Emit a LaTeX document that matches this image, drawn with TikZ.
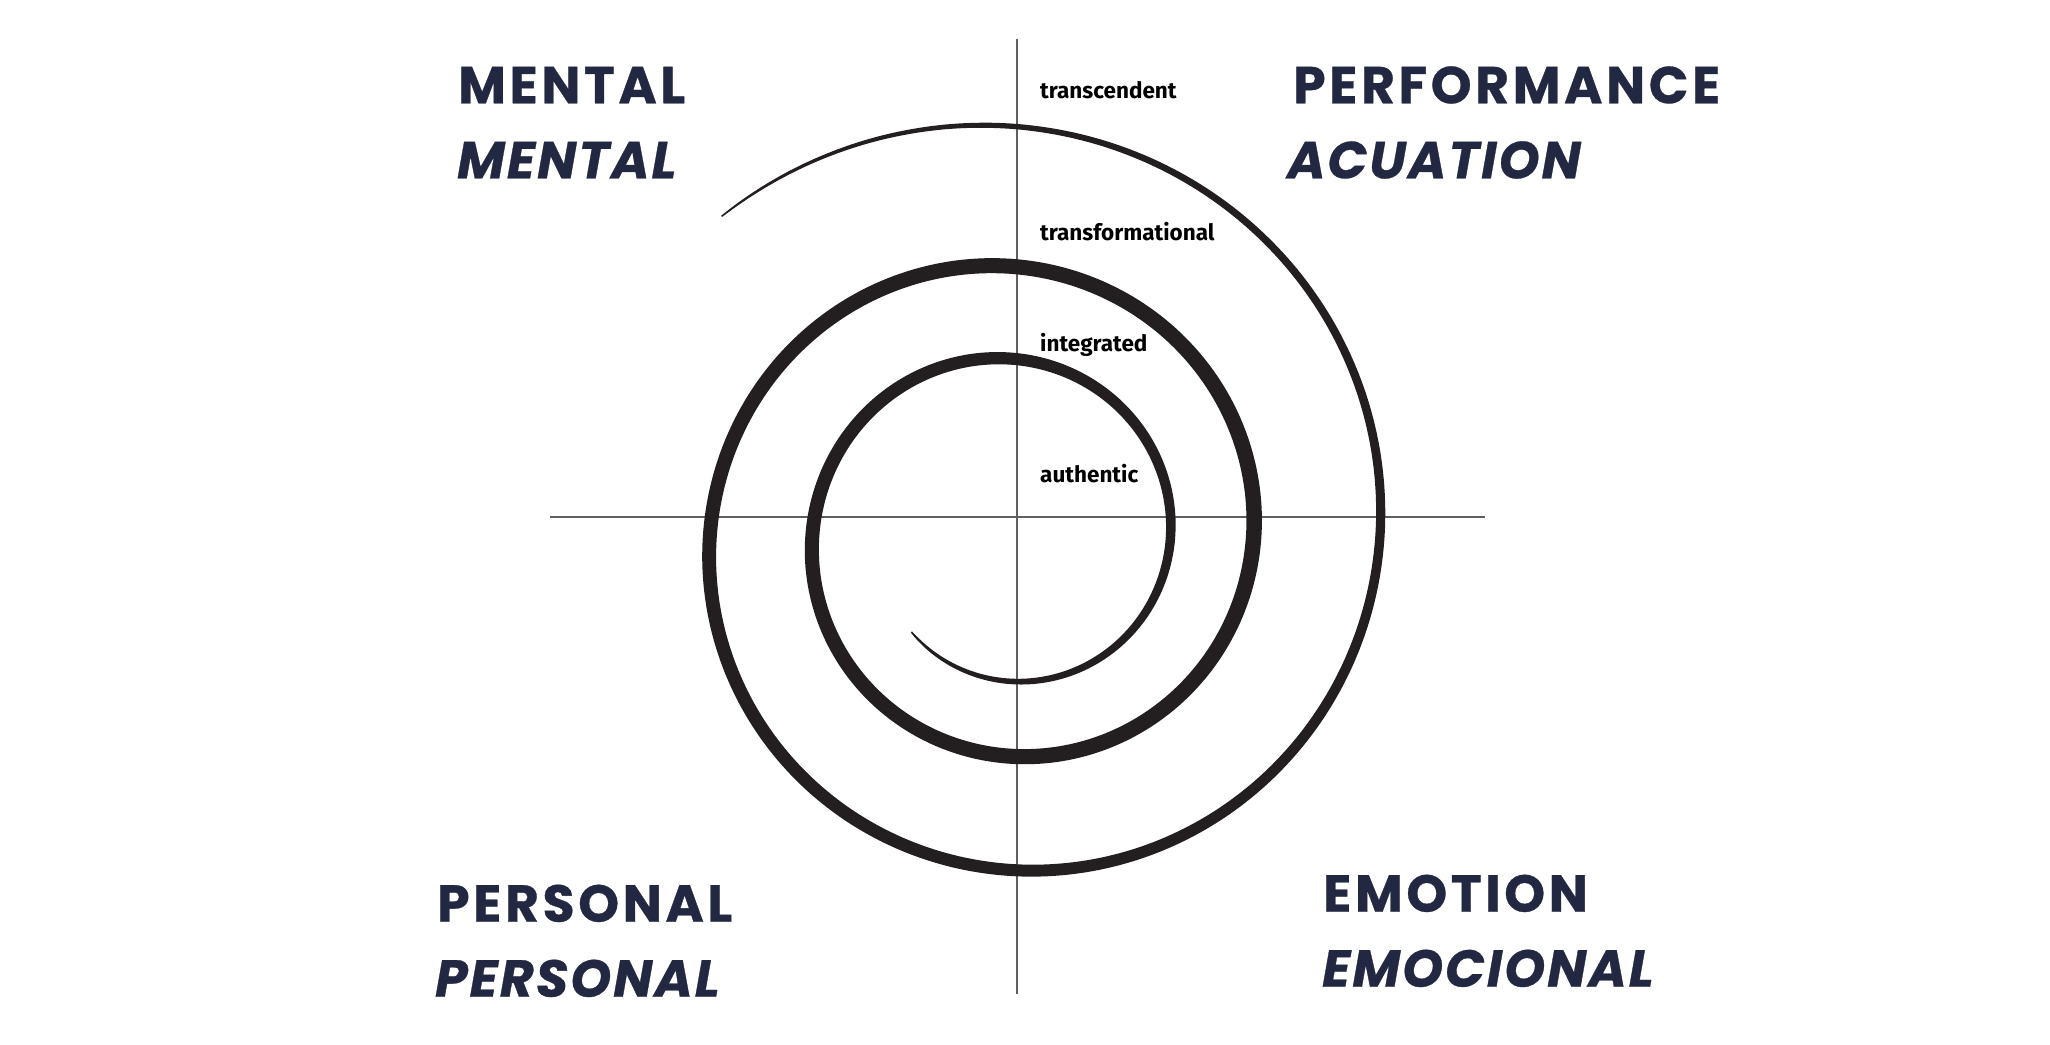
\documentclass[tikz,border=0pt]{standalone}
\usepackage{fontspec}
\newfontfamily\bigfont[LetterSpace=7,FakeBold=0.6]{Poppins}
\newfontfamily\bigitfont[LetterSpace=4,FakeBold=0.6]{Poppins}
\newfontfamily\smallfont{Fira Sans}
\definecolor{navy}{RGB}{34,40,66}
\definecolor{ink}{RGB}{35,31,32}
\definecolor{axisgray}{RGB}{95,95,95}
\begin{document}
\begin{tikzpicture}[x=1pt,y=-1pt,
  bigup/.style={anchor=base west,inner sep=0pt,text=navy,font=\bigfont\fontsize{52}{52}\selectfont\bfseries},
  bigit/.style={anchor=base west,inner sep=0pt,text=navy,font=\bigitfont\fontsize{52}{52}\selectfont\bfseries\itshape},
  level/.style={anchor=base west,inner sep=0pt,text=black,font=\smallfont\fontsize{22.5}{22.5}\selectfont\bfseries},
  axis/.style={draw=axisgray,line width=1.4pt},
  declare function={sr(\u)=160.5*exp(0.0011596*\u);
                    sw(\u)=1.5+14*pow(max(sin((\u+136)*0.182186),0.0001),0.65);}]
\useasboundingbox (0,0) rectangle (2050,1044);
\fill[white] (0,0) rectangle (2050,1044);
% axes
\coordinate (vtop) at (1017,39);
\coordinate (vbot) at (1017,994);
\coordinate (hl) at (550,517);
\coordinate (hr) at (1485,517);
\draw[axis] (vtop) -- (vbot);
\draw[axis] (hl) -- (hr);
% spiral
\fill[ink] plot[domain=-136:852,samples=450,smooth]
  ({1010+(sr(\x)+0.5*sw(\x))*cos(\x)},{536.7-(sr(\x)+0.5*sw(\x))*sin(\x)})
  -- plot[domain=852:-136,samples=450,smooth]
  ({1010+(sr(\x)-0.5*sw(\x))*cos(\x)},{536.7-(sr(\x)-0.5*sw(\x))*sin(\x)}) -- cycle;
% level labels
\node[level] (l1) at (1040,98) {transcendent};
\node[level] (l2) at (1040,240) {transformational};
\node[level] (l3) at (1040,351) {integrated};
\node[level] (l4) at (1040,482) {authentic};
% quadrant labels
\node[bigup] (m1) at (458,103.3) {MENTAL};
\node[bigit] (m2) at (457,178.3) {MENTAL};
\node[bigup] (p1) at (1293,103.3) {PERFORMANCE};
\node[bigit] (p2) at (1287,178.3) {ACUATION};
\node[bigup] (s1) at (437,921.7) {PERSONAL};
\node[bigit] (s2) at (435,996.7) {PERSONAL};
\node[bigup] (e1) at (1323,911.7) {EMOTION};
\node[bigit] (e2) at (1322,986.7) {EMOCIONAL};
\end{tikzpicture}
\end{document}
